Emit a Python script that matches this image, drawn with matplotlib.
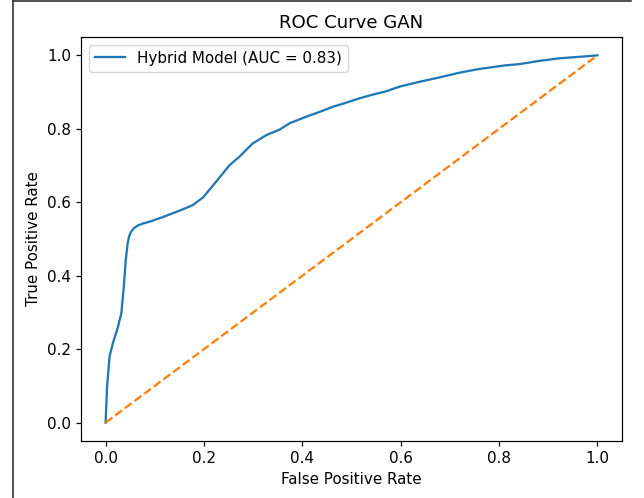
import matplotlib.pyplot as plt
from matplotlib.lines import Line2D

# ROC points
fpr = [0.0, 0.003, 0.008, 0.015, 0.025, 0.032, 0.037, 0.041, 0.045, 0.048,
       0.052, 0.058, 0.066, 0.078, 0.089, 0.117, 0.150, 0.177, 0.198, 0.218,
       0.252, 0.272, 0.299, 0.327, 0.354, 0.374, 0.408, 0.435, 0.462, 0.489,
       0.516, 0.543, 0.570, 0.598, 0.638, 0.679, 0.720, 0.760, 0.814, 0.841,
       0.882, 0.923, 0.963, 1.0]
tpr = [0.0, 0.098, 0.180, 0.217, 0.260, 0.298, 0.370, 0.443, 0.490, 0.508,
       0.520, 0.530, 0.537, 0.543, 0.547, 0.560, 0.577, 0.592, 0.613, 0.645,
       0.701, 0.724, 0.760, 0.783, 0.798, 0.815, 0.833, 0.846, 0.860, 0.871,
       0.883, 0.893, 0.902, 0.915, 0.928, 0.940, 0.953, 0.963, 0.973, 0.976,
       0.985, 0.992, 0.996, 1.0]
auc = 0.83

s = 1.09  # screenshot scale
plt.rcParams['font.size'] = 10 * s

fig = plt.figure(figsize=(6.44, 4.98), dpi=100)
ax = fig.add_axes([81 / 644, 1 - 441 / 498, 541 / 644, 404 / 498])

ax.plot(fpr, tpr, lw=1.5 * s, label=f'Hybrid Model (AUC = {auc:.2f})')
ax.plot([0, 1], [0, 1], '--', lw=1.5 * s)

ax.set_xlabel('False Positive Rate')
ax.set_ylabel('True Positive Rate')
ax.set_title('ROC Curve GAN', fontsize=12 * s, pad=6 * s)
ax.legend(loc='upper left')
for sp in ax.spines.values():
    sp.set_linewidth(0.8 * s)
ax.tick_params(width=0.8 * s, length=3.5 * s)

# screenshot frame lines
fig.add_artist(Line2D([13 / 644, 13 / 644], [0, 1 - 1.5 / 498], color='#333333', lw=1.2))
fig.add_artist(Line2D([13 / 644, 631 / 644], [1 - 1.5 / 498, 1 - 1.5 / 498], color='#333333', lw=1.2))

fig.savefig('out.png', dpi=100)
